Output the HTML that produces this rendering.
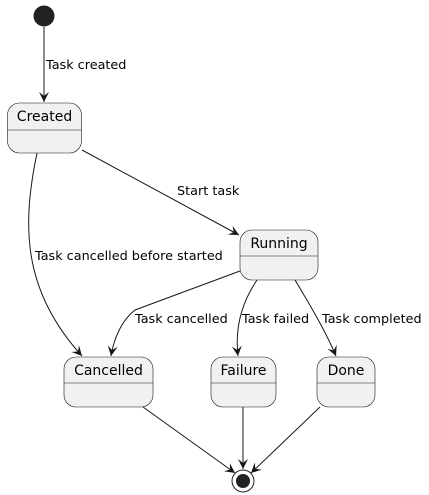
<!DOCTYPE html>
<html><head><style>body{margin:0;background:#fff}svg{display:block}text{font-family:"DejaVu Sans","Liberation Sans",sans-serif;fill:#000}</style></head><body>
<svg width="429" height="495" viewBox="0 0 429 495" xmlns="http://www.w3.org/2000/svg">
<defs><marker id="a" markerWidth="12" markerHeight="12" refX="10" refY="5" orient="auto" markerUnits="userSpaceOnUse"><path d="M0,0 L10,5 L0,10 L4,5 Z" fill="#181818"/></marker></defs>
<circle cx="44" cy="16" r="10" fill="#222" stroke="#222"/>
<g fill="#F1F1F1" stroke="#181818" stroke-width="0.6">
<rect x="7.5" y="103" width="74" height="50" rx="12"/><line x1="7.5" y1="130" x2="81.5" y2="130"/>
<rect x="240" y="230" width="78" height="50" rx="12"/><line x1="240" y1="256" x2="318" y2="256"/>
<rect x="64" y="357" width="89" height="50" rx="12"/><line x1="64" y1="383" x2="153" y2="383"/>
<rect x="211" y="357" width="65" height="50" rx="12"/><line x1="211" y1="383" x2="276" y2="383"/>
<rect x="317" y="357" width="58" height="50" rx="12"/><line x1="317" y1="383" x2="375" y2="383"/>
</g>
<g font-size="14" text-anchor="middle">
<text x="44.5" y="121">Created</text>
<text x="279" y="248">Running</text>
<text x="108.5" y="375">Cancelled</text>
<text x="243.5" y="375">Failure</text>
<text x="346" y="375">Done</text>
</g>
<g fill="none" stroke="#181818" stroke-width="1" marker-end="url(#a)">
<path d="M44,27 L44,102"/>
<path d="M37,153 C22,225 22,290 82,356"/>
<path d="M82,150 L239,235"/>
<path d="M240,271 L135,310 C122,320 114,338 111,356"/>
<path d="M257,280 C240,305 235,330 238,356"/>
<path d="M295,280 C310,305 325,330 336,356"/>
<path d="M143,407 L235,473"/>
<path d="M243,407 L243,469"/>
<path d="M320,407 L251,473"/>
</g>
<circle cx="243" cy="481" r="11" fill="none" stroke="#222" stroke-width="1"/>
<circle cx="243" cy="481" r="7" fill="#222"/>
<g font-size="12.8">
<text x="46" y="69">Task created</text>
<text x="177" y="195">Start task</text>
<text x="35" y="260">Task cancelled before started</text>
<text x="135" y="323">Task cancelled</text>
<text x="242" y="323">Task failed</text>
<text x="322" y="323">Task completed</text>
</g>
</svg>
</body></html>
